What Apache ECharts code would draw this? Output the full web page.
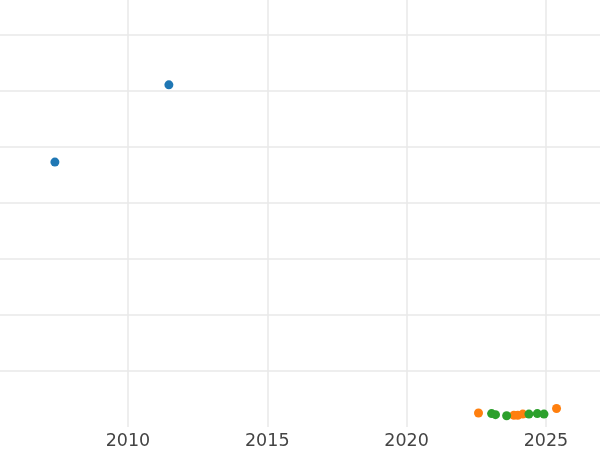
<!DOCTYPE html>
<html><head><meta charset="utf-8">
<script src="https://cdn.jsdelivr.net/npm/echarts@6/dist/echarts.min.js"></script>
<style>html,body{margin:0;padding:0;background:#fff}#c{width:600px;height:450px}</style>
</head><body><div id="c"></div>
<script>
// x: year, y: value (arbitrary units, one grid step = 1)
const blueX = [2007.38, 2011.47];
const blueY = [4.73, 6.11];
const orangeX = [2022.58, 2023.85, 2023.99, 2024.17, 2025.38];
const orangeY = [0.25, 0.21, 0.21, 0.23, 0.33];
const greenX = [2023.05, 2023.19, 2023.59, 2024.39, 2024.69, 2024.93];
const greenY = [0.24, 0.22, 0.20, 0.23, 0.24, 0.23];
const xTicks = [2010, 2015, 2020, 2025];
const yTicks = [1, 2, 3, 4, 5, 6, 7];

const zip = (xs, ys) => xs.map((x, i) => [x, ys[i]]);
const chart = echarts.init(document.getElementById('c'), null, {renderer: 'canvas'});
const grid = {color: '#e9e9e9', width: 1.5};
chart.setOption({
  animation: false,
  grid: {left: 0, right: 0, top: 0, bottom: 23, containLabel: false},
  xAxis: {
    type: 'value', min: 2005.41, max: 2026.94,
    axisLine: {show: false},
    axisTick: {show: false, customValues: xTicks},
    axisLabel: {
      margin: 5, fontFamily: 'DejaVu Sans', fontSize: 17.5, color: '#444',
      customValues: xTicks, formatter: v => String(v)
    },
    splitLine: {show: true, lineStyle: grid}
  },
  yAxis: {
    type: 'value', min: 0, max: 7.625,
    axisLine: {show: false},
    axisTick: {show: false, customValues: yTicks},
    axisLabel: {show: false, customValues: yTicks},
    splitLine: {show: true, lineStyle: grid}
  },
  series: [
    {type: 'scatter', data: zip(blueX, blueY), symbolSize: 9, itemStyle: {color: '#1f77b4', opacity: 1}},
    {type: 'scatter', data: zip(orangeX, orangeY), symbolSize: 9, itemStyle: {color: '#ff7f0e', opacity: 1}},
    {type: 'scatter', data: zip(greenX, greenY), symbolSize: 9, itemStyle: {color: '#2ca02c', opacity: 1}}
  ]
});
</script></body></html>
